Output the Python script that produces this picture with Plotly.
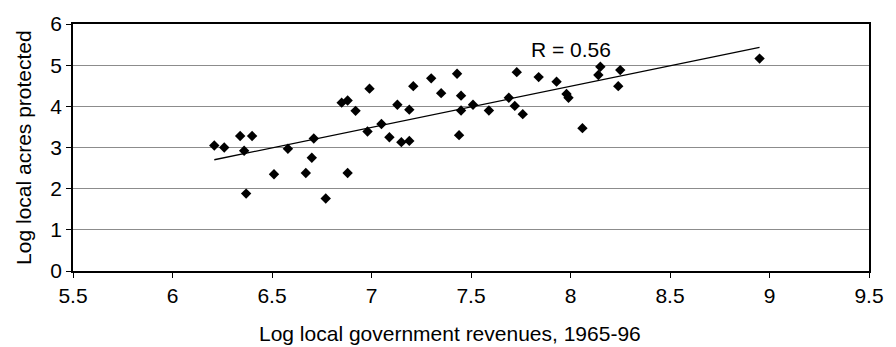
import numpy as np
import plotly.graph_objects as go

# Log local government revenues (1965-96) vs. log local acres protected
log_revenues = [6.21, 6.26, 6.34, 6.40, 6.36, 6.37, 6.51, 6.58, 6.67, 6.70,
                6.71, 6.77, 6.85, 6.88, 6.88, 6.92, 6.98, 6.99, 7.05, 7.09,
                7.13, 7.15, 7.19, 7.19, 7.21, 7.30, 7.35, 7.43, 7.45, 7.44,
                7.45, 7.51, 7.59, 7.69, 7.72, 7.73, 7.76, 7.84, 7.93, 7.98,
                7.99, 8.06, 8.14, 8.15, 8.25, 8.24, 8.95]
log_acres = [3.05, 3.00, 3.28, 3.28, 2.92, 1.88, 2.35, 2.97, 2.38, 2.75,
             3.22, 1.76, 4.09, 4.14, 2.38, 3.89, 3.39, 4.43, 3.57, 3.25,
             4.04, 3.13, 3.16, 3.92, 4.49, 4.68, 4.32, 4.79, 4.26, 3.30,
             3.90, 4.04, 3.90, 4.21, 4.01, 4.83, 3.81, 4.71, 4.60, 4.30,
             4.21, 3.47, 4.76, 4.96, 4.88, 4.49, 5.16]
x_ticks = [5.5, 6, 6.5, 7, 7.5, 8, 8.5, 9, 9.5]
x_tick_labels = ["5.5", "6", "6.5", "7", "7.5", "8", "8.5", "9", "9.5"]
x_title = "Log local government revenues, 1965-96"
y_title = "Log local acres protected"
r_label = "R = 0.56"

x = np.array(log_revenues)
y = np.array(log_acres)
slope, intercept = np.polyfit(x, y, 1)
fit_x = np.array([x.min(), x.max()])
fit_y = slope * fit_x + intercept

font = "Liberation Sans, Arial, Helvetica, sans-serif"
fsize = 21

fig = go.Figure()
fig.add_trace(go.Scatter(
    x=fit_x, y=fit_y, mode="lines",
    line=dict(color="black", width=1.3), hoverinfo="skip", showlegend=False,
))
fig.add_trace(go.Scatter(
    x=x, y=y, mode="markers",
    marker=dict(symbol="diamond", size=8, color="black", line=dict(width=0)),
    showlegend=False,
))

# correlation label
fig.add_annotation(
    x=8.0, y=5.37, text=r_label, showarrow=False,
    font=dict(family=font, size=fsize, color="black"),
)
# axis titles
fig.add_annotation(
    xref="paper", yref="paper", x=0.473, y=-0.255,
    xanchor="center", yanchor="middle", text=x_title, showarrow=False,
    font=dict(family=font, size=fsize, color="black"),
)
fig.add_annotation(
    xref="paper", yref="paper", x=-0.0623, y=0.5, textangle=-90,
    xanchor="center", yanchor="middle", text=y_title, showarrow=False,
    font=dict(family=font, size=fsize, color="black"),
)

fig.update_layout(
    width=896, height=347,
    margin=dict(l=73, r=20, t=18, b=76),
    paper_bgcolor="white", plot_bgcolor="white",
    font=dict(family=font, size=fsize, color="black"),
)
fig.update_xaxes(
    range=[5.5, 9.5], tickvals=x_ticks, ticktext=x_tick_labels,
    showline=True, linecolor="black", linewidth=1.5, mirror=True,
    ticks="outside", ticklen=5, tickcolor="black", tickwidth=1,
    showgrid=False, zeroline=False,
)
fig.update_yaxes(
    range=[0, 6], dtick=1,
    showline=True, linecolor="black", linewidth=1.5, mirror=True,
    ticks="outside", ticklen=5, tickcolor="black", tickwidth=1,
    showgrid=True, gridcolor="#8c8c8c", gridwidth=1.2, zeroline=False,
)

fig.write_html("out.html")
